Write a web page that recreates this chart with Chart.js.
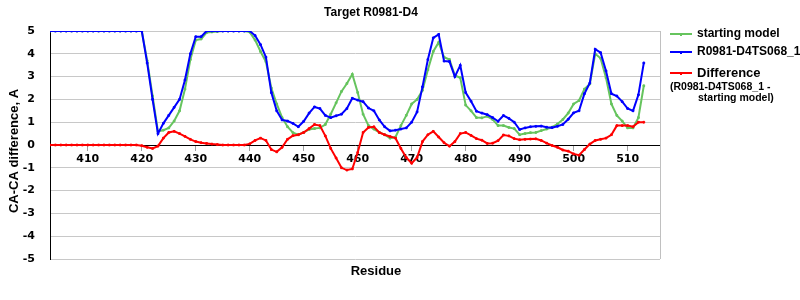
<!DOCTYPE html>
<html>
<head>
<meta charset="utf-8">
<script src="https://cdn.jsdelivr.net/npm/chart.js@4.4.1/dist/chart.umd.min.js"></script>
<style>
html,body{margin:0;padding:0;background:#fff;}
#wrap{position:relative;width:800px;height:300px;}
</style>
</head>
<body>
<div id="wrap"><canvas id="c" width="800" height="300"></canvas></div>
<script>
// ---- data ----
const residues = [403,404,405,406,407,408,409,410,411,412,413,414,415,416,417,418,419,420,
421,422,423,424,425,426,427,428,429,430,431,432,433,434,435,436,437,438,439,440,
441,442,443,444,445,446,447,448,449,450,451,452,453,454,455,456,457,458,459,460,
461,462,463,464,465,466,467,468,469,470,471,472,473,474,475,476,477,478,479,480,
481,482,483,484,485,486,487,488,489,490,491,492,493,494,495,496,497,498,499,500,
501,502,503,504,505,506,507,508,509,510,511,512,513];

const startingModel = [5,5,5,5,5,5,5,5,5,5,5,5,5,5,5,5,5,5,
3.7,2.15,0.6,0.65,0.75,1.05,1.5,2.45,3.75,4.6,4.65,4.93,4.96,4.98,5,5,5,5,5,4.95,
4.6,4.1,3.65,2.5,1.8,1.2,0.8,0.54,0.45,0.55,0.68,0.72,0.75,0.9,1.35,1.85,2.35,2.7,3.1,2.3,
1.35,0.85,0.7,0.55,0.45,0.3,0.35,0.85,1.3,1.8,2.0,2.4,3.3,4.1,4.5,3.85,3.75,3.05,2.95,1.75,
1.5,1.2,1.19,1.26,1.12,0.85,0.85,0.77,0.72,0.45,0.5,0.54,0.55,0.63,0.7,0.78,0.92,1.12,1.4,1.8,
1.95,2.45,2.68,4.0,3.8,2.95,1.8,1.3,1.05,0.75,0.75,1.2,2.6];

const modelTS068 = [5,5,5,5,5,5,5,5,5,5,5,5,5,5,5,5,5,5,
3.6,2.0,0.5,0.95,1.3,1.65,2.0,2.85,4.0,4.75,4.75,5,5,5,5,5,5,5,5,5,
4.8,4.4,3.85,2.3,1.5,1.1,1.05,0.95,0.8,1.04,1.4,1.67,1.6,1.3,1.2,1.28,1.35,1.6,2.05,1.97,
1.9,1.62,1.5,1.1,0.8,0.62,0.65,0.7,0.75,1.0,1.45,2.55,3.75,4.7,4.85,3.68,3.66,3.0,3.49,2.3,
1.92,1.48,1.4,1.33,1.2,1.04,1.29,1.17,1.0,0.68,0.75,0.8,0.82,0.83,0.78,0.76,0.82,0.9,1.13,1.41,
1.5,2.25,2.72,4.2,4.05,3.25,2.25,2.15,1.9,1.6,1.5,2.2,3.6];

const difference = [0,0,0,0,0,0,0,0,0,0,0,0,0,0,0,0,0,-0.03,
-0.1,-0.15,-0.05,0.3,0.55,0.6,0.5,0.38,0.25,0.15,0.1,0.07,0.04,0.02,0,0,0,0,0,0.05,
0.2,0.3,0.2,-0.2,-0.3,-0.1,0.25,0.41,0.45,0.55,0.72,0.9,0.85,0.4,-0.15,-0.57,-1.0,-1.1,-1.05,-0.33,
0.55,0.77,0.8,0.55,0.45,0.37,0.3,-0.15,-0.55,-0.8,-0.55,0.15,0.45,0.6,0.35,0.1,-0.05,0.15,0.5,0.55,
0.42,0.28,0.21,0.07,0.08,0.19,0.44,0.4,0.28,0.23,0.25,0.26,0.27,0.2,0.08,-0.02,-0.1,-0.22,-0.27,-0.39,
-0.45,-0.2,0.04,0.2,0.25,0.3,0.45,0.85,0.85,0.85,0.8,1.0,1.0];

const xTickValues = [410,420,430,440,450,460,470,480,490,500,510];
const yTickValues = [-5,-4,-3,-2,-1,0,1,2,3,4,5];

const titleText = 'Target R0981-D4';
const yTitle = 'CA-CA difference, A';
const xTitle = 'Residue';
const seriesNames = ['starting model', 'R0981-D4TS068_1', 'Difference'];
const diffNote = ['(R0981-D4TS068_1 -', 'starting model)'];

const GREEN = '#66c45e', BLUE = '#0000ff', RED = '#ff0000';
const toXY = vals => residues.map((r, i) => ({x: r, y: vals[i]}));

const SANS = '"Liberation Sans", Arial, sans-serif';
const TICKFONT = {family: '"DejaVu Sans", sans-serif', weight: 'bold', size: 11};

const overlay = {
  id: 'overlay',
  beforeDatasetsDraw(chart) {
    const ctx = chart.ctx, a = chart.chartArea;
    ctx.save();
    ctx.strokeStyle = '#c0c0c0';
    ctx.lineWidth = 1;
    ctx.beginPath();
    ctx.moveTo(Math.round(a.right) + 0.5, a.top);
    ctx.lineTo(Math.round(a.right) + 0.5, a.bottom);
    ctx.stroke();
    ctx.restore();
  },
  afterDraw(chart) {
    const ctx = chart.ctx;
    ctx.save();
    ctx.fillStyle = '#000';
    ctx.textBaseline = 'middle';
    // title
    ctx.font = 'bold 12px ' + SANS;
    ctx.textAlign = 'center';
    ctx.fillText(titleText, 371, 13);
    // x title
    ctx.font = 'bold 13px ' + SANS;
    ctx.fillText(xTitle, 376, 271);
    // y title
    ctx.save();
    ctx.translate(14, 151);
    ctx.rotate(-Math.PI / 2);
    ctx.fillText(yTitle, 0, 0);
    ctx.restore();
    // legend
    const cols = [GREEN, BLUE, RED];
    const ys = [34, 52, 73];
    ctx.textAlign = 'left';
    for (let i = 0; i < 3; i++) {
      ctx.strokeStyle = cols[i];
      ctx.lineWidth = 2;
      ctx.beginPath();
      ctx.moveTo(670, ys[i]);
      ctx.lineTo(692, ys[i]);
      ctx.stroke();
      ctx.fillStyle = cols[i];
      ctx.fillRect(680, ys[i] - 1, 2, 3);
      ctx.fillStyle = '#000';
      ctx.font = (i === 2 ? 'bold 13px ' : 'bold 12px ') + SANS;
      ctx.fillText(seriesNames[i], 697, ys[i]);
    }
    ctx.font = 'bold 10.5px ' + SANS;
    ctx.fillText(diffNote[0], 670, 87);
    ctx.fillText(diffNote[1], 698, 98);
    ctx.restore();
  }
};

const mk = (label, vals, color, order) => ({
  label, data: toXY(vals), borderColor: color, backgroundColor: color,
  borderWidth: 2, pointRadius: 1.2, pointStyle: 'rect', pointBorderWidth: 1,
  pointBackgroundColor: color, pointBorderColor: color,
  tension: 0, order
});

new Chart(document.getElementById('c'), {
  type: 'line',
  data: {
    datasets: [
      mk(seriesNames[2], difference, RED, 0),
      mk(seriesNames[1], modelTS068, BLUE, 1),
      mk(seriesNames[0], startingModel, GREEN, 2)
    ]
  },
  options: {
    responsive: false,
    animation: false,
    devicePixelRatio: 1,
    layout: {padding: {top: 31, left: 0, right: 140, bottom: 41}},
    plugins: {legend: {display: false}, title: {display: false}, tooltip: {enabled: false}},
    scales: {
      x: {
        type: 'linear', min: 403, max: 516,
        position: {y: 0},
        afterBuildTicks: s => { s.ticks = xTickValues.map(v => ({value: v})); },
        grid: {drawOnChartArea: false, drawTicks: true, tickLength: 5, color: '#a0a0a0'},
        border: {display: true, color: '#000', width: 1},
        ticks: {font: TICKFONT, color: '#000', padding: 3, maxRotation: 0, autoSkip: false,
                callback: v => String(v)}
      },
      y: {
        type: 'linear', min: -5, max: 5,
        afterBuildTicks: s => { s.ticks = yTickValues.map(v => ({value: v})); },
        afterFit: s => { s.width = 50; },
        grid: {color: '#c8c8c8', drawTicks: false},
        border: {display: true, color: '#000', width: 1},
        ticks: {font: TICKFONT, color: '#000', padding: 15, callback: v => String(v)}
      }
    }
  },
  plugins: [overlay]
});
</script>
</body>
</html>
